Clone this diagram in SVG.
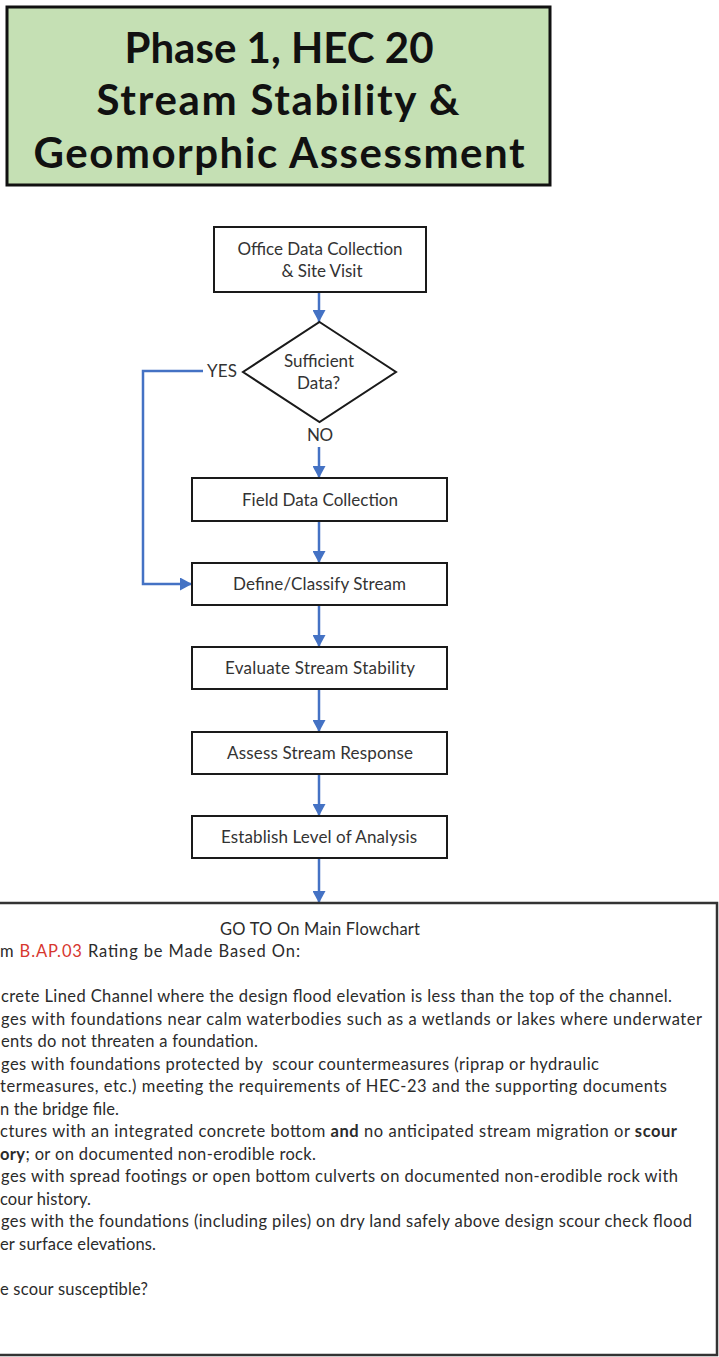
<svg xmlns="http://www.w3.org/2000/svg" width="719" height="1357" viewBox="0 0 719 1357">
<style>
  .title { font-family: Lato, "Open Sans", sans-serif; font-weight: bold; font-size: 42px; fill: #111; text-anchor: middle; }
  .box { fill: #ffffff; stroke: #1a1a1a; stroke-width: 2; }
  .lbl { font-family: Lato, "Open Sans", sans-serif; font-size: 17px; fill: #333; }
  .mid { text-anchor: middle; }
  .body { font-family: Lato, "Open Sans", sans-serif; font-size: 16.5px; fill: #2b2b2b; }
  .conn { fill: none; stroke: #4472c4; stroke-width: 2.5; }
  .red { fill: #d7372f; }
  .b { font-weight: bold; }
</style>
<defs>
  <marker id="arr" viewBox="0 0 12 13" refX="12" refY="6.5" markerWidth="12" markerHeight="13" markerUnits="userSpaceOnUse" orient="auto">
    <path d="M0,0 L12,6.5 L0,13 Z" fill="#4472c4"/>
  </marker>
</defs>
<rect width="719" height="1357" fill="#ffffff"/>

<g id="title">
  <rect x="7" y="7" width="543" height="178" fill="#c5e0b4" stroke="#111" stroke-width="3"/>
  <text class="title" x="279" y="63" textLength="309">Phase 1, HEC 20</text>
  <text class="title" x="278" y="115" textLength="363">Stream Stability &amp;</text>
  <text class="title" x="279" y="168" textLength="491">Geomorphic Assessment</text>
</g>

<g id="connectors">
  <path class="conn" d="M319,292 V322" marker-end="url(#arr)"/>
  <path class="conn" d="M319,447 V478" marker-end="url(#arr)"/>
  <path class="conn" d="M203,371 H143 V584 H192" marker-end="url(#arr)"/>
  <path class="conn" d="M319,521 V563" marker-end="url(#arr)"/>
  <path class="conn" d="M319,605 V647" marker-end="url(#arr)"/>
  <path class="conn" d="M319,689 V732" marker-end="url(#arr)"/>
  <path class="conn" d="M319,774 V816" marker-end="url(#arr)"/>
  <path class="conn" d="M319,858 V903" marker-end="url(#arr)"/>
  <text class="lbl" x="207" y="377" textLength="30">YES</text>
  <text class="lbl" x="307" y="441" textLength="26">NO</text>
</g>

<g id="office">
  <rect class="box" x="214" y="227" width="212" height="65"/>
  <text class="lbl mid" x="320" y="255" textLength="165">Office Data Collection</text>
  <text class="lbl mid" x="322" y="277" textLength="81">&amp; Site Visit</text>
</g>

<g id="decision">
  <polygon class="box" points="319.5,322 396,372 319.5,422 243,372"/>
  <text class="lbl mid" x="319" y="367" textLength="70">Sufficient</text>
  <text class="lbl mid" x="318.5" y="389" textLength="43">Data?</text>
</g>

<g id="field">
  <rect class="box" x="192" y="478" width="255" height="43"/>
  <text class="lbl mid" x="320" y="506" textLength="156">Field Data Collection</text>
</g>

<g id="define">
  <rect class="box" x="192" y="563" width="255" height="42"/>
  <text class="lbl mid" x="319.5" y="590" textLength="173">Define/Classify Stream</text>
</g>

<g id="evaluate">
  <rect class="box" x="192" y="647" width="255" height="42"/>
  <text class="lbl mid" x="320" y="674" textLength="190">Evaluate Stream Stability</text>
</g>

<g id="assess">
  <rect class="box" x="192" y="732" width="255" height="42"/>
  <text class="lbl mid" x="320" y="759" textLength="186">Assess Stream Response</text>
</g>

<g id="establish">
  <rect class="box" x="192" y="816" width="255" height="42"/>
  <text class="lbl mid" x="319" y="843" textLength="196">Establish Level of Analysis</text>
</g>

<g id="goto">
  <rect x="-10" y="903" width="727" height="452" fill="#ffffff" stroke="#333" stroke-width="2.5"/>
  <text class="body" x="220" y="934.5" textLength="200">GO TO On Main Flowchart</text>
  <text class="body" x="0" y="957" textLength="300">m <tspan class="red">B.AP.03</tspan> Rating be Made Based On:</text>
  <text class="body" x="1" y="1002" textLength="671">crete Lined Channel where the design flood elevation is less than the top of the channel.</text>
  <text class="body" x="1" y="1024.5" textLength="701">ges with foundations near calm waterbodies such as a wetlands or lakes where underwater</text>
  <text class="body" x="1" y="1047" textLength="257">ents do not threaten a foundation.</text>
  <text class="body" x="1" y="1069.5" textLength="598" style="white-space:pre">ges with foundations protected by  scour countermeasures (riprap or hydraulic</text>
  <text class="body" x="0" y="1092" textLength="667">termeasures, etc.) meeting the requirements of HEC-23 and the supporting documents</text>
  <text class="body" x="0" y="1114.5" textLength="119">n the bridge file.</text>
  <text class="body" x="0" y="1137" textLength="677">ctures with an integrated concrete bottom <tspan class="b">and</tspan> no anticipated stream migration or <tspan class="b">scour</tspan></text>
  <text class="body" x="0" y="1159.5" textLength="316"><tspan class="b">ory</tspan>; or on documented non-erodible rock.</text>
  <text class="body" x="1" y="1182" textLength="677">ges with spread footings or open bottom culverts on documented non-erodible rock with</text>
  <text class="body" x="0" y="1204.5" textLength="91">cour history.</text>
  <text class="body" x="1" y="1227" textLength="691">ges with the foundations (including piles) on dry land safely above design scour check flood</text>
  <text class="body" x="0" y="1249.5" textLength="156">er surface elevations.</text>
  <text class="body" x="0" y="1294.5" textLength="148">e scour susceptible?</text>
</g>
</svg>
